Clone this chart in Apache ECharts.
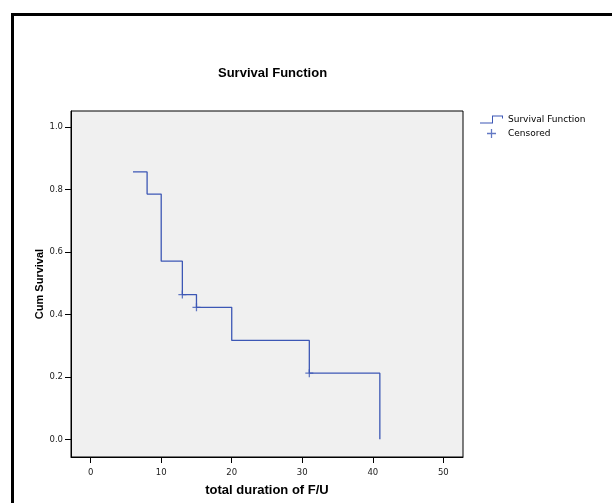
<!DOCTYPE html>
<html>
<head>
<meta charset="utf-8">
<script src="https://cdn.jsdelivr.net/npm/echarts@6/dist/echarts.min.js"></script>
<style>
  html, body { margin: 0; padding: 0; background: #fff; }
  #main { width: 612px; height: 503px; }
</style>
</head>
<body>
<div id="main"></div>
<script>
// Kaplan-Meier steps: time of each drop and survival after it
var survTimes = [6, 8, 10, 13, 15, 20, 31, 41];
var survValues = [0.857, 0.786, 0.571, 0.464, 0.423, 0.317, 0.212, 0.0];
// censored cases
var censorTimes = [13, 15, 31];
var censorValues = [0.464, 0.423, 0.212];
// tick labels
var xTicks = [0, 10, 20, 30, 40, 50];
var yTicks = [0, 0.2, 0.4, 0.6, 0.8, 1.0];

var lineColor = '#3c57b5';
var plusIcon = 'path://M0,4.3H10V5.7H0Z M4.3,0H5.7V10H4.3Z';
var plusMark = 'path://M0,4.2H10V5.8H0Z M4.2,0H5.8V10H4.2Z';
var stepIcon = 'path://M0,7H12V0H23V3H22V1H13V8H0Z';

var survData = survTimes.map(function (t, i) { return [t, survValues[i]]; });
var censorData = censorTimes.map(function (t, i) { return [t, censorValues[i]]; });

var tickFont = { fontFamily: 'DejaVu Sans', fontSize: 8.5, color: '#222' };

var myChart = echarts.init(document.getElementById('main'), null, { renderer: 'canvas' });

var opt = {
    animation: false,
    title: {
        text: 'Survival Function',
        left: 213,
        top: 62,
        textStyle: { fontFamily: 'Liberation Sans', fontWeight: 'bold', fontSize: 13, color: '#000' }
    },
    legend: {
        orient: 'vertical',
        left: 475,
        top: 110,
        itemWidth: 23,
        itemHeight: 9,
        itemGap: 5,
        selectedMode: false,
        itemStyle: { borderWidth: 0 },
        textStyle: { fontFamily: 'DejaVu Sans', fontSize: 9, color: '#000' },
        data: [
            { name: 'Survival Function', icon: stepIcon },
            { name: 'Censored', icon: plusIcon, itemStyle: { color: lineColor } }
        ]
    },
    graphic: [{
        type: 'rect',
        shape: { x: 12.5, y: 14.5, width: 700, height: 600 },
        style: { fill: 'none', stroke: '#000', lineWidth: 3 },
        silent: true
    }],
    grid: {
        left: 71,
        top: 111,
        width: 392,
        height: 346,
        show: true,
        backgroundColor: '#f0f0f0',
        borderColor: '#000',
        borderWidth: 1
    },
    xAxis: {
        type: 'value',
        min: -2.79,
        max: 52.79,
        name: 'total duration of F/U',
        nameLocation: 'middle',
        nameGap: 27,
        nameTextStyle: { fontFamily: 'Liberation Sans', fontWeight: 'bold', fontSize: 13, color: '#000' },
        axisLine: { show: true, onZero: false, lineStyle: { color: '#000', width: 1 } },
        axisTick: { show: true, length: 6, customValues: xTicks, lineStyle: { color: '#000' } },
        axisLabel: Object.assign({ customValues: xTicks, margin: 11 }, tickFont),
        splitLine: { show: false }
    },
    yAxis: {
        type: 'value',
        min: -0.0567,
        max: 1.0522,
        name: 'Cum Survival',
        nameLocation: 'middle',
        nameGap: 26,
        nameMoveOverlap: false,
        nameRotate: 90,
        nameTextStyle: { fontFamily: 'Liberation Sans', fontWeight: 'bold', fontSize: 11, color: '#000' },
        axisLine: { show: true, onZero: false, lineStyle: { color: '#000', width: 1 } },
        axisTick: { show: true, length: 6, customValues: yTicks, lineStyle: { color: '#000' } },
        axisLabel: Object.assign({
            customValues: yTicks,
            margin: 8,
            formatter: function (v) { return v.toFixed(1); }
        }, tickFont),
        splitLine: { show: false }
    },
    series: [
        {
            name: 'Survival Function',
            type: 'line',
            step: 'end',
            symbol: 'none',
            data: survData,
            lineStyle: { color: lineColor, width: 1.3 },
            itemStyle: { color: lineColor }
        },
        {
            name: 'Censored',
            type: 'scatter',
            symbol: plusMark,
            symbolSize: 8,
            data: censorData,
            itemStyle: { color: lineColor, borderWidth: 0 }
        }
    ]
};

myChart.setOption(opt);
</script>
</body>
</html>
